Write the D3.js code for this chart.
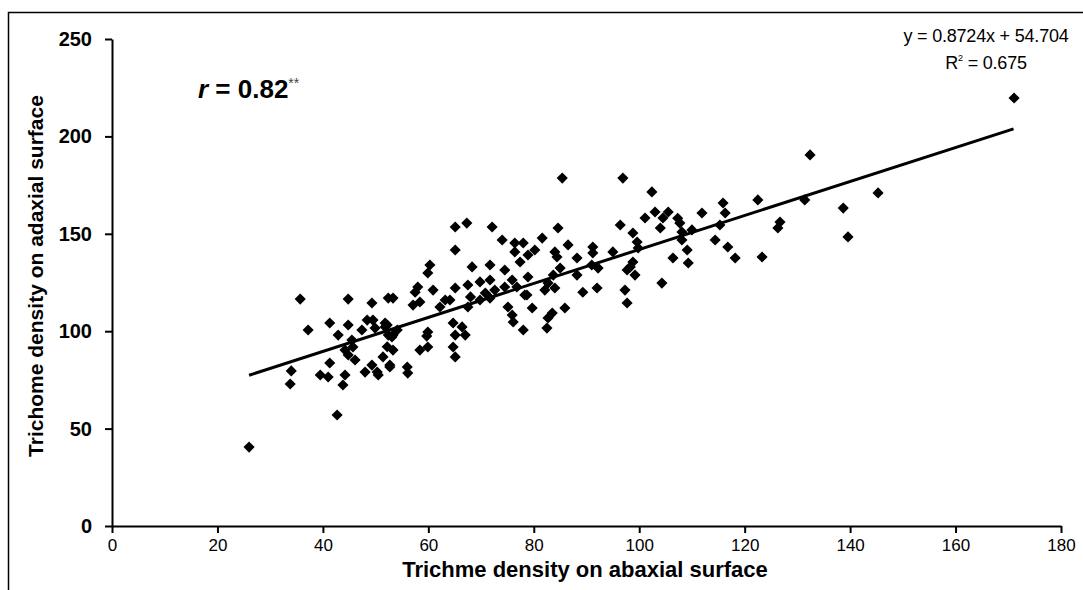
<!DOCTYPE html>
<html>
<head>
<meta charset="utf-8">
<script src="https://cdn.jsdelivr.net/npm/d3@7"></script>
<style>
  body { margin: 0; background: #fff; }
  text { font-family: Arial, "Liberation Sans", sans-serif; fill: #000; }
</style>
</head>
<body>
<div id="chart"></div>
<script>
// abaxial (x) vs adaxial (y) trichome density
var abaxial = [26, 33.8, 34, 35.7, 37.2, 41.3, 44.8, 44.8, 42.9, 41.3, 39.5, 41, 44.2, 43.8, 42.7, 44.8, 45.7, 49.3, 48.4, 49.5,
    49.3, 50.3, 52.2, 52.4, 45.5, 47.4, 49.9, 52.4, 53.3, 52.7, 50.5, 48, 46.1, 44.2, 53.1, 54.1, 51.8, 65.1, 67.3, 72.1,
    74, 76.4, 76.4, 65.1, 60.3, 59.9, 68.3, 71.7, 74.5, 77.4, 58, 57.5, 60.9, 58.4, 57.1, 53.3, 65.1, 67.5, 69.8, 71.7,
    63.2, 62.2, 69.8, 71.7, 67.5, 75.9, 76.8, 75.1, 75.9, 76.1, 78, 78.7, 64.7, 66.4, 67, 65.1, 64.7, 65.1, 59.9, 59.7,
    59.9, 58.4, 56, 56.1, 51.8, 53.3, 52.2, 51.4, 52.7, 85.4, 96.9, 102.4, 103, 101.1, 104.5, 104, 96.4, 98.8, 99.6, 99.8,
    84.6, 86.5, 81.6, 80.2, 78.9, 84, 84.4, 91.2, 91.2, 88.2, 95, 85, 83.7, 88.2, 91, 92.2, 98.3, 99.2, 97.7, 98.8,
    78.9, 82.7, 84, 78.3, 82.1, 89.3, 92, 97.3, 97.7, 104.3, 79.7, 85.9, 83.5, 82.7, 82.5, 132.4, 122.5, 115.9, 116.3, 111.9,
    105.5, 107.3, 107.7, 108.1, 110, 115.3, 131.4, 126.7, 126.3, 114.4, 116.8, 118.2, 123.3, 106.4, 109.3, 109.1, 108.1, 145.3, 138.7, 139.6,
    171.1, 64.1, 68, 70.8, 72.6, 74.5, 78]
var adaxial = [40.5, 72.9, 79.6, 116.5, 100.6, 104.2, 116.5, 103.2, 98, 83.7, 77.5, 76.5, 77.5, 72.4, 57, 87.8, 91.9, 114.5, 105.7, 105.7,
    82.6, 79, 103.2, 117, 95.5, 100.6, 101.6, 98, 90.3, 82.6, 77.5, 79, 85.2, 90.3, 97, 100.6, 104.2, 153.5, 155.5, 153.5,
    146.8, 145.3, 140.7, 141.7, 134, 129.9, 133, 134, 131.4, 135.5, 122.7, 120, 121.1, 115, 113.4, 117, 122.2, 123.7, 125.3, 126.3,
    116, 112.4, 116, 117, 112.4, 126.3, 122.7, 112.4, 108.3, 104.7, 100.6, 118.6, 104.2, 102.2, 98, 98, 91.9, 86.8, 99.6, 97.5,
    91.9, 90.3, 81.6, 78.5, 102.2, 98, 92, 86.8, 81.6, 178.6, 178.6, 171.5, 161.2, 158.1, 158.1, 153, 154.5, 150.4, 145.8, 142.7,
    153, 144.3, 147.8, 141.7, 139.1, 140.7, 138.1, 143.2, 140.2, 137.6, 140.7, 132.4, 128.8, 128.8, 134, 132.4, 133, 128.8, 131.4, 135.5,
    127.8, 124.7, 122.2, 118.6, 121.1, 120, 122.2, 121.1, 114.5, 124.7, 111.9, 111.9, 109.3, 106.8, 101.6, 190.5, 167.4, 165.8, 160.7, 160.7,
    161.2, 158, 155.5, 150.9, 152, 154.5, 167.4, 156, 153, 146.8, 143.2, 137.6, 138.1, 137.6, 135, 141.7, 146.8, 171, 163.2, 148.4,
    219.7, 116, 117.6, 119.6, 121.1, 122.7, 145.3]
var xTicks = [0, 20, 40, 60, 80, 100, 120, 140, 160, 180]
var yTicks = [0, 50, 100, 150, 200, 250]
var slope = 0.8724, intercept = 54.704
var fitRange = [26, 171]

var width = 1083, height = 590
var svg = d3.select("#chart")
    .append("svg")
    .attr("width", width)
    .attr("height", height)

svg.append("rect")
    .attr("x", 8.5)
    .attr("y", 12.5)
    .attr("width", width)
    .attr("height", height)
    .attr("fill", "none")
    .attr("stroke", "#000")
    .attr("stroke-width", 1.5)

var x = d3.scaleLinear().domain([0, 180]).range([112, 1061])
var y = d3.scaleLinear().domain([0, 250]).range([526, 39])

var yAxis = svg.append("g")
    .attr("transform", "translate(112,0)")
    .call(d3.axisLeft(y).tickValues(yTicks).tickSize(7).tickPadding(13).tickSizeOuter(0))
yAxis.selectAll("text")
    .style("font-size", "20px")
    .style("font-weight", 700)
    .attr("font-family", null)

var xAxis = svg.append("g")
    .attr("transform", "translate(0,526)")
    .call(d3.axisBottom(x).tickValues(xTicks).tickSize(7).tickPadding(6).tickSizeOuter(0))
xAxis.selectAll("text")
    .style("font-size", "17px")
    .attr("font-family", null)

svg.selectAll(".domain, .tick line")
    .attr("stroke", "#000")
    .attr("stroke-width", 2)

var diamond = d3.symbol().type(d3.symbolSquare).size(62)

svg.append("g")
    .selectAll("path")
    .data(abaxial)
    .enter()
    .append("path")
    .attr("d", diamond)
    .attr("transform", (d, i) => "translate(" + x(d) + "," + y(adaxial[i]) + ") rotate(45)")
    .attr("fill", "#000")

svg.append("line")
    .attr("x1", x(fitRange[0]))
    .attr("y1", y(slope * fitRange[0] + intercept))
    .attr("x2", x(fitRange[1]))
    .attr("y2", y(slope * fitRange[1] + intercept))
    .attr("stroke", "#000")
    .attr("stroke-width", 3)

svg.append("text")
    .text("Trichme density on abaxial surface")
    .attr("x", 585)
    .attr("y", 577)
    .attr("text-anchor", "middle")
    .style("font-size", "22px")
    .style("font-weight", 700)

svg.append("text")
    .text("Trichome density on adaxial surface")
    .attr("transform", "translate(43,276) rotate(-90)")
    .attr("text-anchor", "middle")
    .style("font-size", "21px")
    .style("font-weight", 700)

var rLabel = svg.append("text")
    .attr("x", 198)
    .attr("y", 98)
    .style("font-size", "26px")
    .style("font-weight", 700)
rLabel.append("tspan").text("r").style("font-style", "italic")
rLabel.append("tspan").text(" = 0.82")
rLabel.append("tspan").text("**").attr("dy", -10).style("font-size", "14px").style("font-weight", 400).style("fill", "#444")

svg.append("text")
    .text("y = 0.8724x + 54.704")
    .attr("x", 986)
    .attr("y", 42)
    .attr("text-anchor", "middle")
    .style("font-size", "18px")
    .style("letter-spacing", "-0.2px")

var r2 = svg.append("text")
    .attr("x", 986)
    .attr("y", 69)
    .attr("text-anchor", "middle")
    .style("font-size", "18px")
    .style("letter-spacing", "-0.2px")
r2.append("tspan").text("R")
r2.append("tspan").text("2").attr("dy", -8).style("font-size", "9px")
r2.append("tspan").text(" = 0.675").attr("dy", 8)
</script>
</body>
</html>
